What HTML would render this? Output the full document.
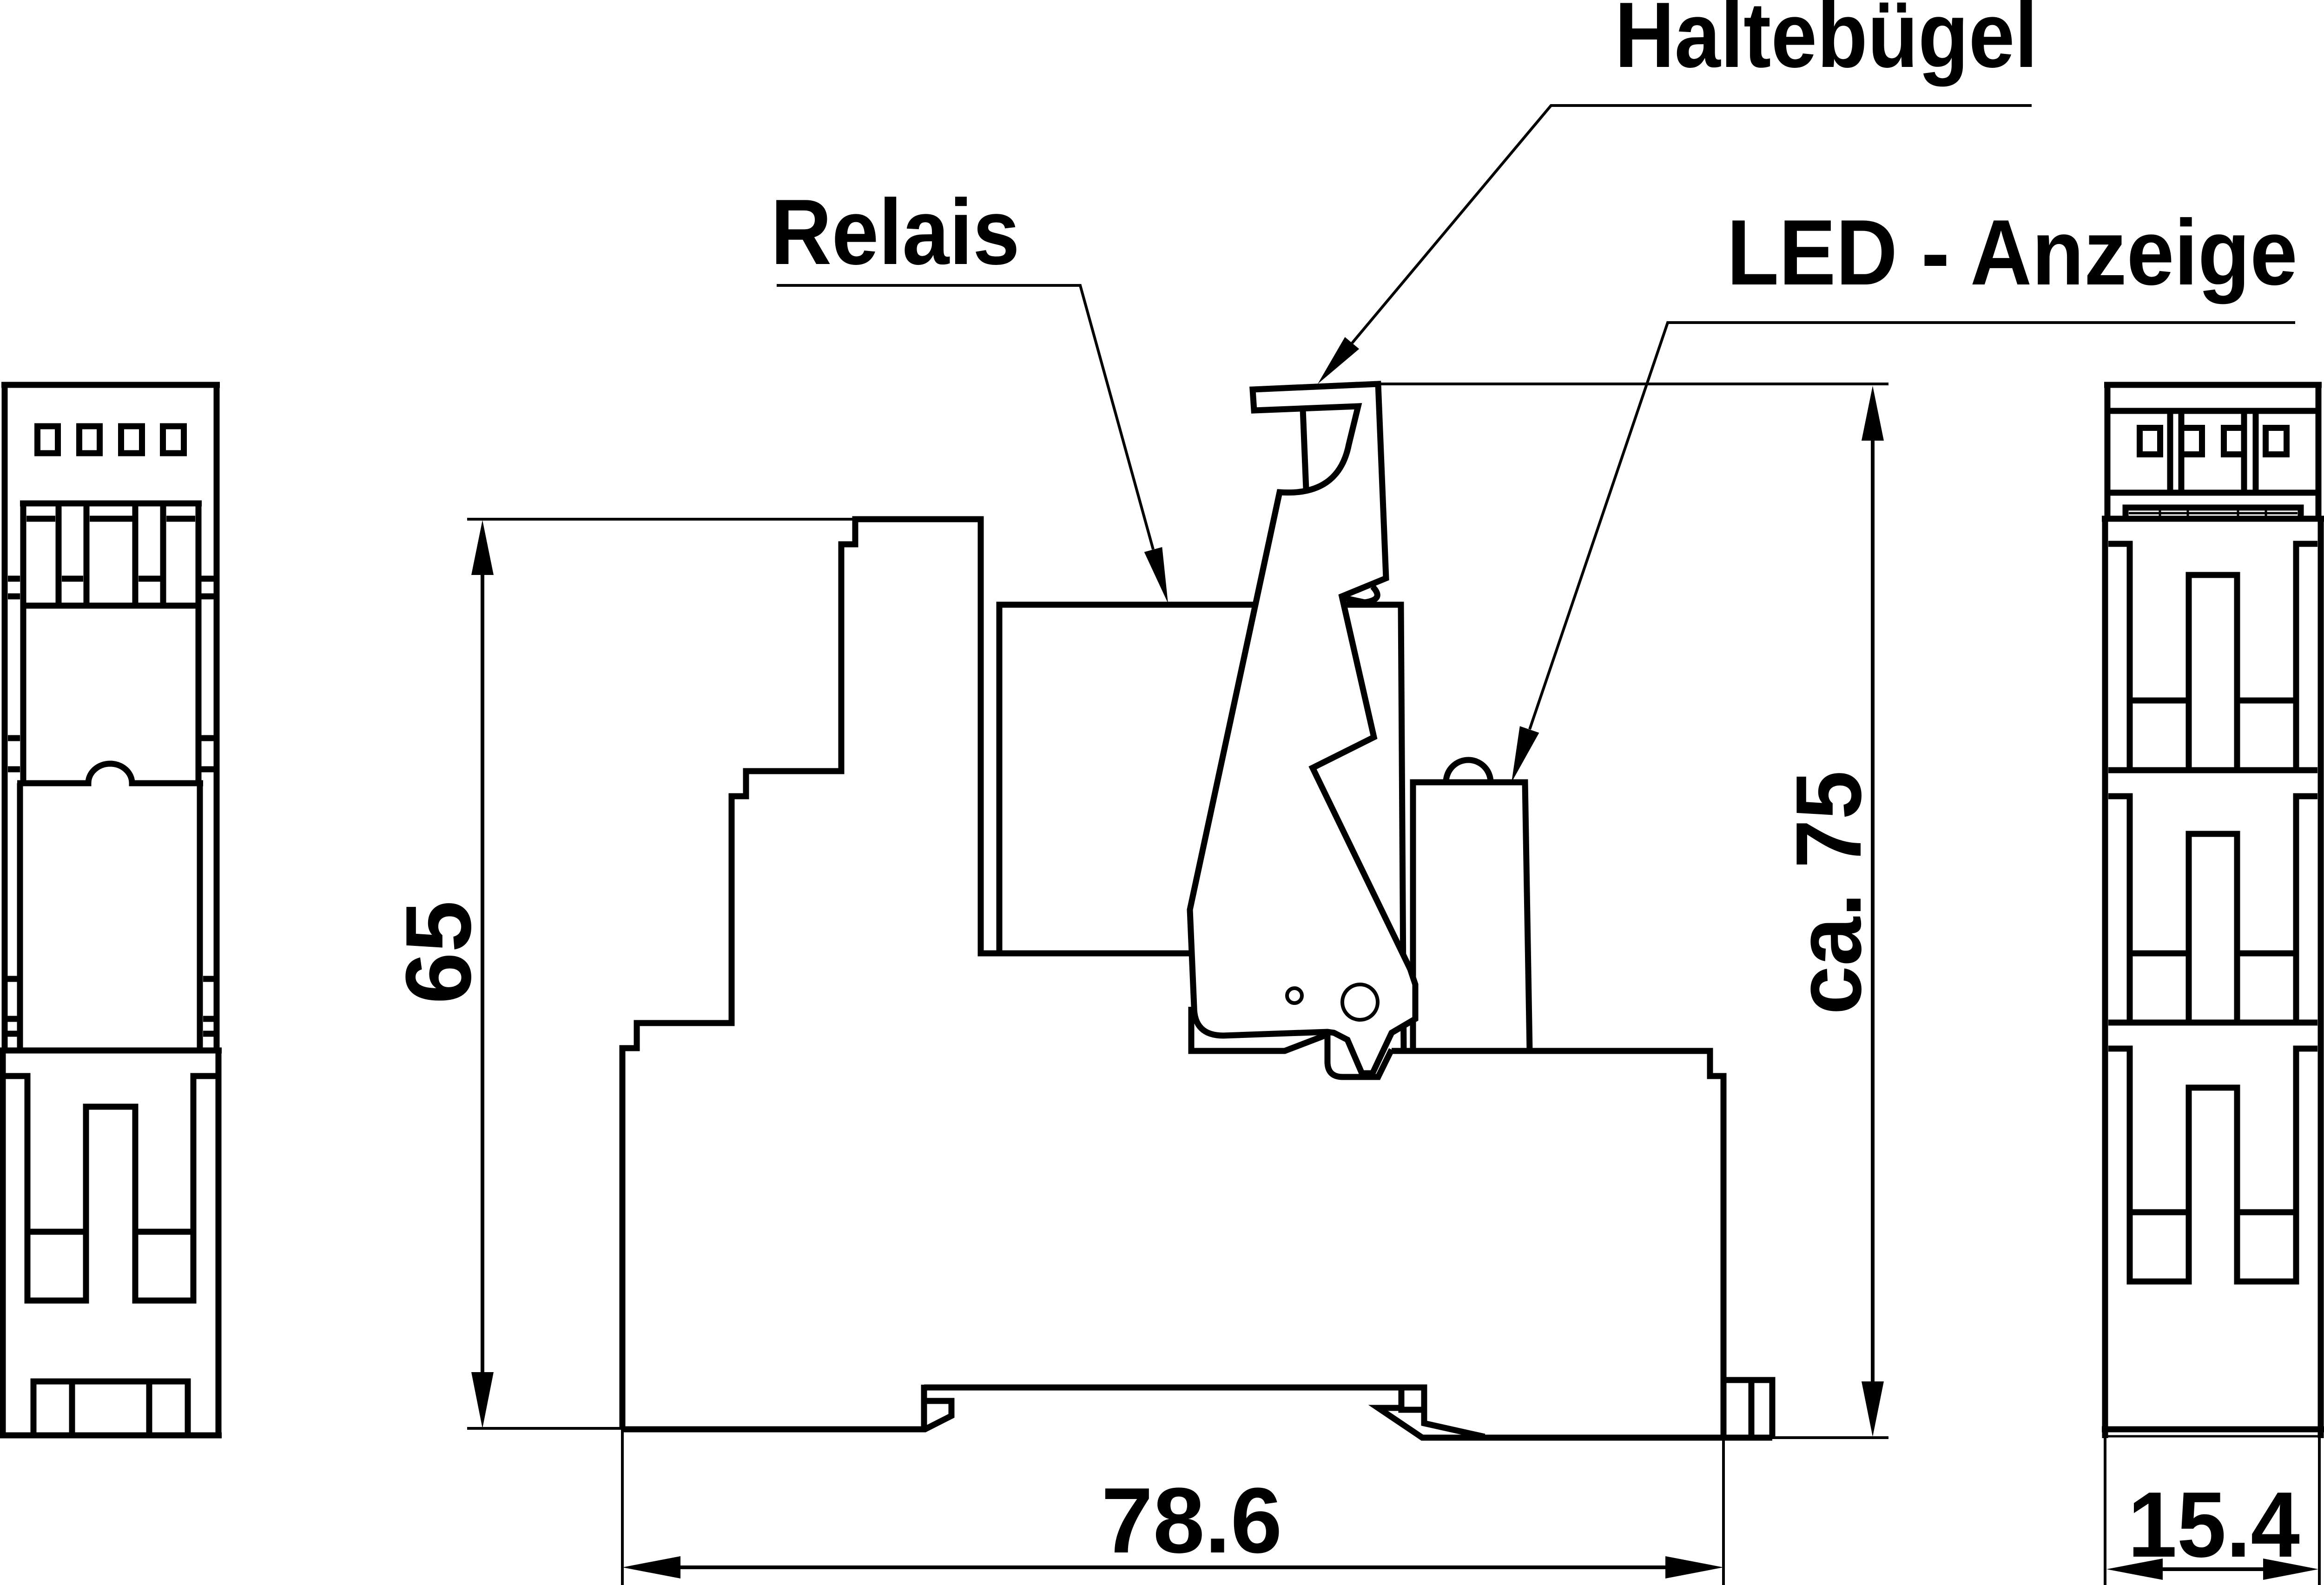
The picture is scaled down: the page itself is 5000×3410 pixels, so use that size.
<!DOCTYPE html>
<html>
<head>
<meta charset="utf-8">
<style>
html,body{margin:0;padding:0;background:#fff;}
svg{display:block;}
text{font-family:"Liberation Sans",Arial,sans-serif;font-weight:bold;font-size:200px;fill:#000;stroke:none;}
</style>
</head>
<body>
<svg width="5000" height="3410" viewBox="0 0 5000 3410" xmlns="http://www.w3.org/2000/svg">
<rect x="0" y="0" width="5000" height="3410" fill="#fff"/>

<!-- ============ LEFT SIDE VIEW ============ -->
<g fill="none" stroke="#000" stroke-width="13" stroke-linejoin="miter" stroke-linecap="butt">
  <path d="M10 822V2260 M466 822V2260 M3 828H473"/>
  <rect x="80.5" y="917" width="44" height="58"/>
  <rect x="170.5" y="917" width="44" height="58"/>
  <rect x="260.5" y="917" width="45" height="58"/>
  <rect x="350.5" y="917" width="45" height="58"/>
  <path d="M43 1083H434 M50 1083V1685 M427 1083V1685"/>
  <path d="M57 1116H119 M193 1116H285 M358 1116H420"/>
  <path d="M126 1083V1303 M186 1083V1303 M291 1083V1303 M351 1083V1303"/>
  <path d="M133 1245H179 M298 1245H345"/>
  <path d="M17 1245H43 M433 1245H460 M17 1283H43 M433 1283H460"/>
  <path d="M17 1588H43 M433 1588H460 M17 1655H43 M433 1655H460"/>
  <path d="M16 2106H37 M437 2106H460 M16 2192H37 M437 2192H460 M16 2224H37 M437 2224H460"/>
  <path d="M50 1303H427"/>
  <path d="M37 1685H190 A47 42 0 0 1 284 1685 H437"/>
  <path d="M43 1685V2260 M430 1685V2260"/>
  <path d="M0 2260H477"/>
  <path d="M6 2254V3092 M470 2254V3092 M0 3088H477"/>
  <path d="M6 2315H59V2798H185V2381H291V2798H416V2315H470"/>
  <path d="M59 2650H185 M291 2650H416"/>
  <path d="M72 3088V2972H404V3088 M155 2972V3088 M321 2972V3088"/>
</g>

<!-- ============ RIGHT SIDE VIEW ============ -->
<g fill="none" stroke="#000" stroke-width="13" stroke-linejoin="miter" stroke-linecap="butt">
  <path d="M4534 822V1116 M4988 822V1116 M4527 828H4995"/>
  <path d="M4534 884H4988 M4534 1060H4988"/>
  <rect x="4603.5" y="920.5" width="44" height="57"/>
  <rect x="4874.5" y="920.5" width="45" height="57"/>
  <path d="M4669 884V1060 M4693 884V1060 M4828 884V1060 M4853 884V1060"/>
  <path d="M4693 920.5H4737.5V977.5H4693"/>
  <path d="M4828 920.5H4784.5V977.5H4828"/>
  <path d="M4573 1116V1092H4950V1116"/>
  <path d="M4529 1110V3094 M4993 1110V3094 M4522 1116H5000"/>
  <!-- module 1 -->
  <path d="M4536 1170H4582V1657 M4986 1170H4940V1657"/>
  <path d="M4709 1657V1237H4813V1657"/>
  <path d="M4582 1507H4709 M4813 1507H4940"/>
  <path d="M4536 1657H4986"/>
  <!-- module 2 -->
  <path d="M4536 1713H4582V2200 M4986 1713H4940V2200"/>
  <path d="M4709 2200V1794H4813V2200"/>
  <path d="M4582 2051H4709 M4813 2051H4940"/>
  <path d="M4536 2200H4986"/>
  <!-- module 3 -->
  <path d="M4536 2256H4582V2757H4709V2340H4813V2757H4940V2256H4986"/>
  <path d="M4582 2608H4709 M4813 2608H4940"/>
  <path d="M4522 3075H5000"/>
</g>
<g fill="none" stroke="#000" stroke-width="5">
  <path d="M4580 1104H4943"/>
  <path d="M4529 3090H4993"/>
  <path d="M4647 1098V1110 M4707 1098V1110 M4815 1098V1110 M4875 1098V1110"/>
</g>

<!-- ============ MAIN VIEW ============ -->
<g fill="none" stroke="#000" stroke-width="13" stroke-linejoin="miter" stroke-linecap="butt">
  <!-- stepped base left + top -->
  <path d="M1339 3075V2255H1370V2201H1574V1713H1605V1659H1810V1171H1840V1117H2110V2051H2563"/>
  <!-- relay -->
  <path d="M2150 2051V1301H3014L3020 2261"/>
  <!-- LED box -->
  <path d="M3040 2261V1683H3281L3291 2261"/>
  <path d="M3111 1683A48 48 0 0 1 3207 1683"/>
  <!-- base right -->
  <path d="M2994 2261H3679V2315H3708V3093"/>
  <!-- rail clip right -->
  <path d="M3708 2969H3813V3093 M3768 2969V3093"/>
  <path d="M3813 3093H3060L2965 3029H3015"/>
  <path d="M3015 2985V3033H3064"/>
  <path d="M1988 2985H3064V3062L3194 3091"/>
  <!-- rail clip left -->
  <path d="M1339 3075H1990L2047 3046V3014H1990"/>
  <path d="M1988 2979V3075"/>
  <!-- base under clip -->
  <path d="M2563 2166V2261H2764L2850 2228"/>
  <!-- Haltebuegel -->
  <path fill="#fff" d="M2695 838L2965 826L2982 1244L2887 1283L2956 1586L2824 1652L3034 2085L3045 2118L3045 2192L2994 2222L2953 2309L2930 2309L2899 2237L2870 2222L2856 2220L2632 2228Q2569 2228 2569 2166L2560 1957L2753 1059Q2880 1068 2902 956L2922 874L2698 883Z"/>
  <path d="M2953 1262Q2980 1290 2936 1296L2894 1287"/>
  <path d="M2803 880L2810 1052"/>
  <path d="M2856 2222V2284Q2856 2317 2889 2317H2965L2994 2258"/>
</g>
<g fill="none" stroke="#000" stroke-width="8">
  <circle cx="2785" cy="2142" r="16"/>
  <circle cx="2926" cy="2156" r="38"/>
</g>

<!-- ============ LEADERS ============ -->
<g fill="none" stroke="#000" stroke-width="6" stroke-linejoin="miter">
  <path d="M1671 614H2324L2481 1182"/>
  <path d="M4371 227H3337L2909 738"/>
  <path d="M4938 694H3588L3291 1569"/>
</g>
<g fill="#000" stroke="none">
  <polygon points="2513,1298 2461.7,1187.6 2500.3,1177.0"/>
  <polygon points="2835,826 2893.6,725.1 2924.2,750.7"/>
  <polygon points="3252,1683 3269.8,1562.3 3311.4,1576.5"/>
</g>

<!-- ============ DIMENSIONS ============ -->
<g fill="none" stroke="#000" stroke-width="6">
  <path d="M1005 1117H1840 M1005 3073H1339"/>
  <path d="M2969 826H4063 M3813 3093H4063"/>
  <path d="M1339 3075V3410 M3708 3093V3410"/>
  <path d="M4529 3094V3410 M4990 3094V3410"/>
</g>
<g fill="none" stroke="#000" stroke-width="8">
  <path d="M1038 1230V2960"/>
  <path d="M4029 940V2980"/>
  <path d="M1460 3372H3590"/>
  <path d="M4650 3376H4872"/>
</g>
<g fill="#000" stroke="none">
  <polygon points="1038,1119 1014,1237 1062,1237"/>
  <polygon points="1038,3073 1014,2952 1062,2952"/>
  <polygon points="4029,830 4005,948 4053,948"/>
  <polygon points="4029,3091 4005,2972 4053,2972"/>
  <polygon points="1339,3372 1464,3348 1464,3396"/>
  <polygon points="3708,3372 3583,3348 3583,3396"/>
  <polygon points="4532,3376 4653,3353 4653,3399"/>
  <polygon points="4988,3376 4869,3353 4869,3399"/>
</g>

<!-- ============ TEXT ============ -->
<text x="1658" y="568" textLength="536" lengthAdjust="spacingAndGlyphs">Relais</text>
<text x="3474" y="144" textLength="910" lengthAdjust="spacingAndGlyphs">Haltebügel</text>
<text x="3715" y="612" textLength="1228" lengthAdjust="spacingAndGlyphs">LED - Anzeige</text>
<text x="2564" y="3340" text-anchor="middle">78.6</text>
<text x="4578" y="3349" textLength="370" lengthAdjust="spacingAndGlyphs">15.4</text>
<text transform="translate(1012 2160) rotate(-90)" x="0" y="0">65</text>
<text transform="translate(4003 2183) rotate(-90)" x="0" y="0" textLength="525" lengthAdjust="spacingAndGlyphs">ca. 75</text>
</svg>
</body>
</html>
